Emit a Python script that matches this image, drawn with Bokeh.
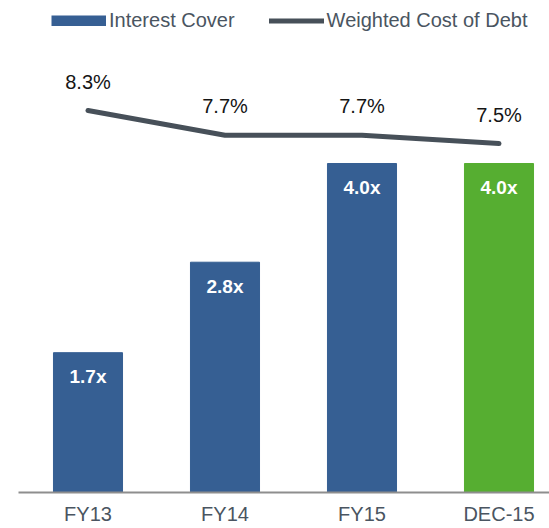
from bokeh.plotting import figure
from bokeh.models import Range1d, FixedTicker, Legend, LegendItem, ColumnDataSource
from bokeh.core.properties import value
from bokeh.embed import file_html
from bokeh.resources import INLINE

# ---- data ----
categories = ["FY13", "FY14", "FY15", "DEC-15"]
interest_cover = [1.7, 2.8, 4.0, 4.0]
cover_labels = ["1.7x", "2.8x", "4.0x", "4.0x"]
cost_of_debt = [8.3, 7.7, 7.7, 7.5]
cost_labels = ["8.3%", "7.7%", "7.7%", "7.5%"]

BLUE = "#365F93"
GREEN = "#56AE31"
LINE = "#475059"
TEXT = "#4A5561"
FONT = "Liberation Sans"

bar_colors = [BLUE, BLUE, BLUE, GREEN]
xpos = [i + 0.5 for i in range(len(categories))]

src = ColumnDataSource(dict(x=xpos, cover=interest_cover, cover_lbl=cover_labels,
                            cost=cost_of_debt, cost_lbl=cost_labels, color=bar_colors))

p = figure(width=549, height=528, output_backend="svg", toolbar_location=None,
           x_range=Range1d(-0.0073, 3.8686), y_range=Range1d(0, 5.982),
           y_axis_location=None,
           min_border_left=18, min_border_right=0, min_border_top=0, min_border_bottom=36)
p.extra_y_ranges = {"cost": Range1d(-0.961, 10.967)}

p.grid.visible = False
p.outline_line_color = None
p.background_fill_color = "white"

ax = p.xaxis[0]
ax.ticker = FixedTicker(ticks=xpos)
ax.major_label_overrides = {x: c for x, c in zip(xpos, categories)}
ax.axis_line_color = "#8E8E8E"
ax.axis_line_width = 2
ax.major_tick_line_color = None
ax.minor_tick_line_color = None
ax.major_label_standoff = 4
ax.major_label_text_font_size = "20px"
ax.major_label_text_font = FONT
ax.major_label_text_color = TEXT

p.vbar(x="x", top="cover", width=0.504, color="color", source=src)

line_r = p.line(x="x", y="cost", source=src, y_range_name="cost", line_width=5,
                line_color=LINE, line_cap="round", line_join="round")

p.text(x="x", y="cover", text="cover_lbl", source=src, text_color="white",
       text_font=value(FONT), text_font_style="bold", text_font_size="19px",
       text_align="center", text_baseline="middle", y_offset=24)

p.text(x="x", y="cost", text="cost_lbl", source=src, y_range_name="cost",
       text_color="#151515", text_font=value(FONT), text_font_size="20px",
       text_align="center", text_baseline="middle", y_offset=-29)

# legend swatch for the bars (no visible data of its own)
proxy = p.line(x=[float("nan")], y=[float("nan")], line_width=11,
               line_color=BLUE, line_cap="butt")

legend = Legend(items=[LegendItem(label="Interest Cover", renderers=[proxy]),
                       LegendItem(label="Weighted Cost of Debt", renderers=[line_r])],
                orientation="horizontal", location=(33, 460),
                glyph_width=55, glyph_height=11, label_standoff=3, spacing=34,
                padding=0, margin=0, border_line_color=None, background_fill_alpha=0,
                label_text_font_size="20px", label_text_color=TEXT,
                label_text_font=FONT)
p.add_layout(legend)

open("out.html", "w").write(file_html(p, INLINE))
